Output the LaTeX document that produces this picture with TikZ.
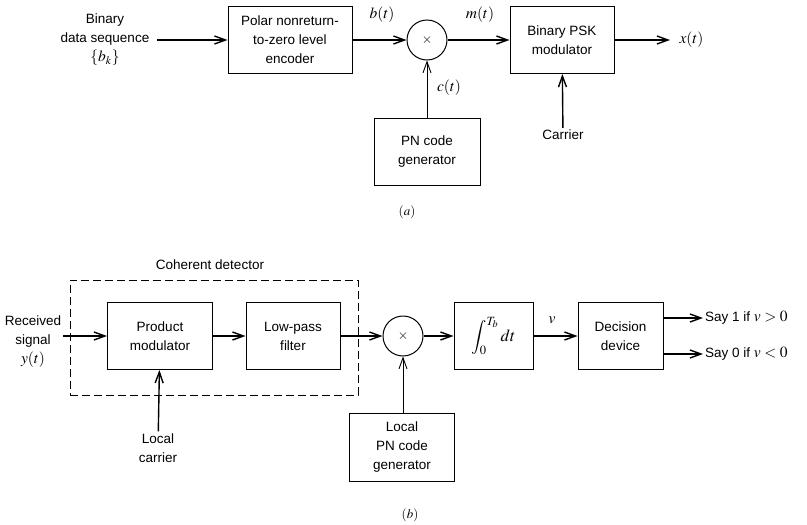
\documentclass[tikz,border=0pt]{standalone}
\usepackage{mathptmx}
\usepackage[no-math]{fontspec}
\setmainfont{Liberation Sans}
\usetikzlibrary{arrows.meta}

\newcommand{\mlab}{\fontsize{15.5}{19}\selectfont}

\begin{document}
\begin{tikzpicture}[x=1pt, y=-1pt,
  every node/.style={font=\fontsize{13.5}{19}\selectfont},
  blk/.style={draw, line width=1pt, align=center, minimum height=67pt, inner sep=2pt},
  mixer/.style={draw, circle, line width=1pt, minimum size=40pt, inner sep=0pt},
  txt/.style={align=center, inner sep=2pt},
  lbl/.style={font=\mlab},
  sig/.style={line width=1.4pt, -{Straight Barb[length=11pt, width=8pt]}},
  thinsig/.style={line width=0.9pt, -{Straight Barb[length=11pt, width=8pt]}}]
  \useasboundingbox (0,0) rectangle (807,525);
  % (a) transmitter
  \node[txt] (bits) at (105,40) {Binary\\data sequence\\{\mlab$\{b_k\}$}};
  \node[blk, minimum width=124pt] (enc) at (290,40) {Polar nonreturn-\\to-zero level\\encoder};
  \node[mixer] (mix1) at (427,40) {$\times$};
  \node[blk, minimum width=104pt] (psk) at (562,40) {Binary PSK\\modulator};
  \node[blk, minimum width=106pt] (pn) at (427,152) {PN code\\generator};
  \node[txt] (car) at (563,135) {Carrier};
  \node[lbl, anchor=west] (xt) at (676,40) {$x(t)$};
  \node[lbl] (bt) at (382,15) {$b(t)$};
  \node[lbl] (mt) at (480,15) {$m(t)$};
  \node[lbl] (ct) at (449,88) {$c(t)$};
  \draw[sig, shorten <=6pt] (bits) -- (enc);
  \draw[sig] (enc) -- (mix1);
  \draw[sig] (mix1) -- (psk);
  \draw[sig, shorten >=6pt] (psk) -- (xt);
  \draw[sig] (car) -- (psk);
  \draw[thinsig] (pn) -- (mix1);
  \node[font=\fontsize{13}{15}\selectfont] (capa) at (407,212) {$(a)$};
  % (b) receiver
  \node[draw, line width=0.8pt, dash pattern=on 8pt off 4pt, minimum width=288pt, minimum height=115pt] (cd) at (214,337.5) {};
  \node[txt] (cdlab) at (210,265) {Coherent detector};
  \node[txt] (recv) at (33,342) {Received\\signal\\{\mlab$y(t)$}};
  \node[blk, minimum width=105pt] (prod) at (160,336) {Product\\modulator};
  \node[blk, minimum width=94pt] (lpf) at (293,336) {Low-pass\\filter};
  \node[mixer] (mix2) at (403,336) {$\times$};
  \node[blk, minimum width=79pt, font=\fontsize{17}{20}\selectfont] (intg) at (493.5,336) {$\displaystyle\int_0^{T_b} dt$};
  \node[blk, minimum width=85pt] (dec) at (620.5,336) {Decision\\device};
  \node[blk, minimum width=105pt, minimum height=68pt] (lpn) at (402,447) {Local\\PN code\\generator};
  \node[txt] (lcar) at (158,448) {Local\\carrier};
  \node[txt, anchor=west] (say1) at (703,318) {Say 1 if {\mlab$v>0$}};
  \node[txt, anchor=west] (say0) at (703,354) {Say 0 if {\mlab$v<0$}};
  \node[lbl] (vlab) at (552,320) {$v$};
  \draw[sig] (recv.east |- prod.west) -- (prod.west);
  \draw[sig] (prod) -- (lpf);
  \draw[sig] (lpf) -- (mix2);
  \draw[sig] (mix2) -- (intg);
  \draw[sig] (intg) -- (dec);
  \draw[sig] (dec.east |- say1.west) -- (say1.west);
  \draw[sig] (dec.east |- say0.west) -- (say0.west);
  \draw[sig] (lcar) -- (prod);
  \draw[thinsig] (lpn.north -| mix2) -- (mix2.south);
  \node[font=\fontsize{13}{15}\selectfont] (capb) at (410,515) {$(b)$};
\end{tikzpicture}
\end{document}
